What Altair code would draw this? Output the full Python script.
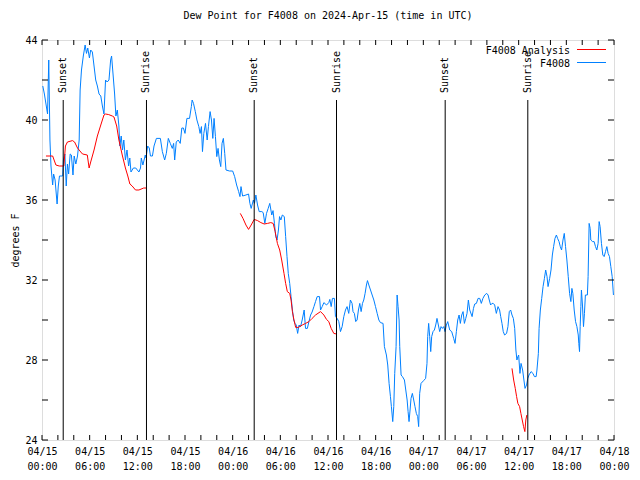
import altair as alt
import pandas as pd

MONO = "DejaVu Sans Mono"
TITLE = "Dew Point for F4008 on 2024-Apr-15 (time in UTC)"
series_names = ["F4008 Analysis", "F4008"]
series_colors = ["#ff0000", "#0080ff"]

# hours since 2024-04-15 00:00 UTC
blue_h = [0.1, 0.3, 0.5, 0.7, 0.85, 1.0, 1.13, 1.34, 1.46, 1.65, 1.9, 2.05, 2.2, 2.6, 2.7, 2.88, 3.05, 3.2, 3.35,
          3.55, 3.7, 3.9, 4.05, 4.26, 4.47, 4.68, 4.8, 4.97, 5.2, 5.43, 5.6, 5.76, 5.97, 6.13, 6.34, 6.55, 6.76,
          6.97, 7.18, 7.4, 7.6, 7.8, 8.0, 8.2, 8.43, 8.64, 8.76, 8.9, 9.14, 9.3, 9.48, 9.68, 9.8, 9.97, 10.14,
          10.3, 10.5, 10.7, 10.9, 11.05, 11.2, 11.5, 11.8, 12.2, 12.4, 12.5, 12.7, 13.0, 13.1, 13.3, 13.5, 13.65,
          13.9, 14.1, 14.4, 14.9, 15.15, 15.44, 15.65, 15.9, 16.15, 16.4, 16.57, 16.7, 16.9, 17.15, 17.4, 17.6,
          17.8, 18.0, 18.24, 18.57, 18.8, 18.9, 19.07, 19.3, 19.5, 19.74, 19.9, 20.07, 20.2, 20.37, 20.58, 20.79,
          20.95, 21.16, 21.33, 21.5, 21.66, 21.83, 22.0, 22.16, 22.33, 22.5, 22.66, 22.83, 23.0, 23.16, 23.6,
          24.0, 24.25, 24.5, 24.75, 24.92, 25.05, 25.25, 25.67, 26.0, 26.17, 26.33, 26.6, 26.75, 26.92, 27.13,
          27.34, 27.67, 27.84, 28.05, 28.26, 28.47, 28.67, 28.92, 29.08, 29.26, 29.42, 29.59, 29.76, 29.9, 30.07,
          30.25, 30.5, 30.67, 30.84, 31.0, 31.18, 31.35, 31.52, 31.68, 31.85, 32.0, 32.18, 32.35, 32.55, 32.75,
          33.0, 33.17, 33.4, 33.6, 33.81, 34.0, 34.23, 34.43, 34.64, 34.93, 35.06, 35.27, 35.48, 35.81, 36.1,
          36.23, 36.4, 36.56, 36.81, 36.94, 37.15, 37.36, 37.57, 37.78, 37.99, 38.2, 38.4, 38.61, 38.82, 39.03,
          39.15, 39.32, 39.49, 39.66, 39.83, 40.0, 40.17, 40.34, 40.5, 40.67, 40.84, 40.97, 41.14, 41.35, 41.56,
          41.77, 41.98, 42.19, 42.4, 42.6, 42.93, 43.1, 43.35, 43.52, 43.69, 43.86, 43.98, 44.15, 44.28, 44.4,
          44.57, 44.7, 44.82, 44.95, 45.03, 45.2, 45.37, 45.62, 45.79, 45.96, 46.08, 46.2, 46.33, 46.45, 46.62,
          46.79, 46.95, 47.12, 47.29, 47.41, 47.54, 47.71, 48.04, 48.29, 48.46, 48.55, 48.67, 48.8, 48.93, 49.05,
          49.22, 49.39, 49.56, 49.72, 49.89, 50.06, 50.23, 50.4, 50.57, 50.73, 50.9, 51.07, 51.32, 51.57, 51.82,
          51.99, 52.16, 52.33, 52.5, 52.66, 52.83, 53.0, 53.17, 53.34, 53.5, 53.67, 53.84, 54.14, 54.31, 54.47,
          54.68, 54.89, 55.1, 55.3, 55.5, 55.73, 55.98, 56.15, 56.3, 56.47, 56.64, 56.8, 56.98, 57.19, 57.4,
          57.6, 57.74, 57.9, 58.06, 58.23, 58.48, 58.65, 58.82, 58.99, 59.16, 59.33, 59.5, 59.65, 59.78, 59.9,
          60.0, 60.16, 60.3, 60.5, 60.66, 60.8, 60.99, 61.15, 61.3, 61.56, 61.8, 61.98, 62.2, 62.3, 62.48, 62.57,
          62.73, 62.9, 63.07, 63.24, 63.4, 63.57, 63.7, 63.9, 64.07, 64.24, 64.4, 64.57, 64.75, 64.9, 65.08,
          65.24, 65.4, 65.58, 65.74, 65.9, 66.07, 66.24, 66.41, 66.57, 66.7, 66.82, 66.99, 67.16, 67.33, 67.5,
          67.57, 67.66, 67.74, 67.83, 67.9, 68.03, 68.16, 68.28, 68.4, 68.65, 68.74, 68.87, 69.0, 69.08, 69.3,
          69.5, 69.67, 69.84, 70.0, 70.13, 70.25, 70.42, 70.59, 70.76, 70.93, 71.1, 71.26, 71.43, 71.6, 71.77,
          71.93]
blue_v = [41.7, 41.3, 40.8, 40.3, 43.0, 39.0, 37.7, 36.75, 37.3, 37.0, 35.8, 36.7, 37.2, 37.2, 38.0, 38.3, 36.7,
          37.8, 37.3, 38.3, 38.25, 37.25, 38.2, 37.8, 38.2, 39.0, 41.5, 42.5, 43.2, 43.75, 43.33, 43.6, 43.1,
          43.5, 43.4, 42.7, 42.0, 41.7, 41.3, 41.2, 40.7, 40.3, 42.0, 41.9, 42.0, 43.0, 43.2, 42.5, 41.3, 40.2,
          40.5, 39.7, 38.7, 39.2, 38.5, 39.0, 38.0, 38.5, 37.7, 38.1, 37.4, 37.6, 37.6, 37.4, 37.6, 38.1, 37.75,
          38.25, 38.1, 38.7, 38.6, 38.2, 38.2, 38.7, 39.08, 39.08, 38.42, 38.0, 38.33, 39.08, 38.83, 38.58,
          38.83, 38.0, 38.9, 39.0, 38.83, 39.6, 39.6, 39.33, 40.08, 40.08, 40.67, 41.0, 40.83, 40.42, 40.0,
          39.67, 39.33, 39.67, 38.42, 39.33, 39.83, 39.0, 39.67, 40.42, 40.0, 39.08, 40.08, 39.17, 38.17, 38.58,
          38.0, 37.67, 38.83, 39.08, 38.33, 37.5, 37.45, 37.45, 37.17, 36.75, 36.42, 36.17, 36.67, 36.2, 36.25,
          36.3, 35.83, 35.58, 36.0, 35.83, 36.25, 35.75, 35.42, 35.42, 35.37, 34.83, 35.33, 35.58, 35.83, 35.25,
          35.47, 34.83, 34.17, 34.0, 34.5, 35.17, 35.0, 35.25, 35.17, 34.17, 33.17, 32.33, 31.83, 31.17, 30.5,
          30.0, 29.83, 29.75, 29.33, 29.75, 29.67, 30.0, 30.5, 29.58, 29.58, 29.92, 30.25, 30.4, 30.67, 30.92,
          31.17, 31.17, 30.5, 30.67, 30.87, 30.75, 30.87, 31.03, 30.67, 31.08, 31.08, 30.17, 30.08, 29.92, 29.42,
          29.67, 30.17, 30.5, 30.67, 30.33, 31.0, 30.83, 30.42, 30.33, 29.92, 30.0, 30.5, 30.83, 30.42, 30.83,
          31.0, 31.33, 31.75, 31.97, 31.75, 31.5, 31.25, 31.0, 30.67, 30.33, 30.0, 29.87, 29.83, 28.67, 28.25,
          27.75, 26.83, 26.17, 25.67, 24.92, 25.67, 27.33, 28.67, 31.25, 30.67, 30.0, 28.67, 27.25, 27.17, 27.0,
          26.5, 26.0, 25.42, 24.92, 25.5, 26.08, 26.33, 26.0, 25.67, 25.33, 25.17, 24.67, 26.33, 26.83, 26.97,
          27.08, 27.83, 29.17, 29.83, 29.17, 28.42, 29.17, 29.42, 29.5, 29.75, 30.08, 29.75, 29.42, 29.67, 29.58,
          29.67, 29.42, 29.75, 29.92, 29.5, 29.42, 29.08, 28.83, 29.42, 30.0, 30.25, 29.83, 30.25, 30.42, 29.83,
          30.08, 30.33, 31.0, 30.5, 30.17, 30.58, 30.8, 30.83, 31.08, 31.08, 30.83, 31.08, 31.25, 31.33, 31.25,
          31.0, 30.75, 30.83, 30.83, 30.75, 30.33, 30.67, 30.5, 30.17, 29.83, 29.42, 29.25, 29.33, 29.67, 30.42,
          30.5, 30.25, 30.08, 29.58, 28.5, 28.0, 28.17, 28.25, 27.33, 27.83, 27.5, 27.0, 26.58, 26.75, 27.08,
          27.25, 27.42, 27.33, 27.17, 27.17, 27.5, 28.33, 29.58, 30.5, 31.08, 31.67, 32.08, 32.5, 32.17, 31.67,
          32.08, 32.5, 33.25, 33.67, 34.08, 34.25, 34.08, 33.92, 33.67, 33.5, 34.0, 34.33, 33.67, 33.0, 32.17,
          31.33, 30.92, 31.58, 31.33, 30.5, 29.92, 29.67, 29.25, 28.83, 28.42, 29.67, 30.67, 31.5, 30.75, 29.67,
          30.33, 31.25, 31.25, 32.17, 34.83, 34.58, 34.0, 33.92, 33.92, 33.67, 33.5, 33.83, 34.92, 34.67, 33.83,
          33.25, 33.17, 33.42, 33.67, 33.33, 33.17, 32.67, 32.17, 31.25]

red1_h = [0.5, 1.34, 1.75, 2.17, 2.75, 2.95, 3.2, 3.84, 4.1, 4.47, 4.88, 5.1, 5.7, 5.93, 6.13, 6.55, 6.97, 7.4,
          7.8, 8.0, 8.4, 8.85, 9.06, 9.4, 9.68, 10.1, 10.5, 10.8, 11.06, 11.35, 11.77, 12.2, 12.8, 13.15]
red1_v = [38.2, 38.2, 37.75, 37.7, 37.7, 38.7, 38.9, 38.97, 38.9, 38.6, 38.4, 38.3, 38.25, 37.6, 37.9, 38.5, 39.2,
          39.75, 40.25, 40.3, 40.27, 40.2, 40.15, 39.7, 39.0, 38.25, 37.6, 37.2, 36.8, 36.7, 36.5, 36.5, 36.6, 36.6]
red2_h = [24.96, 25.3, 25.67, 26.0, 26.33, 26.71, 27.13, 27.55, 27.97, 28.39, 28.8, 29.1, 29.35, 29.63, 29.92,
          30.17, 30.46, 30.67, 30.88, 31.18, 31.35, 31.52, 31.72, 31.93, 32.26, 32.76, 33.18, 33.6, 34.0, 34.43,
          35.06, 35.48, 35.81, 36.1, 36.4, 36.73, 37.07]
red2_v = [35.33, 35.08, 34.75, 34.53, 34.75, 35.03, 34.97, 34.87, 34.8, 34.83, 34.87, 34.83, 34.42, 33.83, 33.5,
          33.0, 32.33, 31.83, 31.42, 31.33, 31.0, 30.42, 30.0, 29.63, 29.63, 29.75, 29.83, 29.92, 30.08, 30.25,
          30.42, 30.25, 30.03, 29.92, 29.58, 29.33, 29.3]
red3_h = [59.16, 59.37, 59.57, 59.74, 59.9, 60.12, 60.28, 60.45, 60.62, 60.78, 60.9, 61.03]
red3_v = [27.58, 27.0, 26.58, 26.17, 25.83, 25.67, 25.33, 25.0, 24.67, 24.42, 25.0, 25.25]

sun_h = [2.67, 13.15, 26.71, 37.07, 50.75, 61.15]
sun_label = ["Sunset", "Sunrise", "Sunset", "Sunrise", "Sunset", "Sunrise"]

x_tick_hours = list(range(0, 73, 6))
x_minor_hours = list(range(0, 73, 2))
x_dates = ["04/15"] * 4 + ["04/16"] * 4 + ["04/17"] * 4 + ["04/18"]
x_times = ["00:00", "06:00", "12:00", "18:00"] * 3 + ["00:00"]
y_ticks = list(range(24, 45, 2))

W, H = 572, 400

blue_df = pd.DataFrame({"h": blue_h, "v": blue_v})
red_df = pd.concat([
    pd.DataFrame({"h": red1_h, "v": red1_v, "seg": 1}),
    pd.DataFrame({"h": red2_h, "v": red2_v, "seg": 2}),
    pd.DataFrame({"h": red3_h, "v": red3_v, "seg": 3}),
])
sun_df = pd.DataFrame({"h": sun_h, "label": sun_label})
xt_df = pd.DataFrame({"h": x_minor_hours})
yt_df = pd.DataFrame({"v": y_ticks})

xs = alt.Scale(domain=[0, 72], nice=False, zero=False)
ys = alt.Scale(domain=[24, 44], nice=False, zero=False)

arr = "[" + ",".join(f"['{d}','{t}']" for d, t in zip(x_dates, x_times)) + "]"
x_axis = alt.Axis(values=x_tick_hours, labelExpr=f"{arr}[round(datum.value/6)]", ticks=False, domain=False,
                  grid=False, title=None, labelFont=MONO, labelFontSize=10, labelPadding=6, labelLineHeight=15,
                  labelFlush=False, labelAngle=0, labelColor="black", labelOverlap=False)
y_axis = alt.Axis(values=y_ticks, ticks=False, domain=False, grid=False, title="degrees F",
                  labelFont=MONO, labelFontSize=10, labelPadding=5, labelColor="black", labelOverlap=False,
                  labelFlush=False,
                  titleFont=MONO, titleFontSize=10, titleFontWeight="normal", titleColor="black",
                  titlePadding=4)

blue_line = alt.Chart(blue_df).mark_line(color=series_colors[1], strokeWidth=1).encode(
    x=alt.X("h:Q", scale=xs, axis=x_axis),
    y=alt.Y("v:Q", scale=ys, axis=y_axis),
)
red_line = alt.Chart(red_df).mark_line(color=series_colors[0], strokeWidth=1).encode(
    x=alt.X("h:Q", scale=xs),
    y=alt.Y("v:Q", scale=ys),
    detail="seg:N",
)
sun_rules = alt.Chart(sun_df).mark_rule(color="black", strokeWidth=1).encode(
    x=alt.X("h:Q", scale=xs),
    y=alt.value(60),
    y2=alt.value(H),
)
sun_text = alt.Chart(sun_df).mark_text(angle=270, align="left", baseline="middle", font=MONO, fontSize=10,
                                       color="black").encode(
    x=alt.X("h:Q", scale=xs),
    y=alt.value(53),
    text="label:N",
)
xt_bottom = alt.Chart(xt_df).mark_rule(color="black").encode(
    x=alt.X("h:Q", scale=xs), y=alt.value(H), y2=alt.value(H - 5))
xt_top = alt.Chart(xt_df).mark_rule(color="black").encode(
    x=alt.X("h:Q", scale=xs), y=alt.value(0), y2=alt.value(5))
yt_left = alt.Chart(yt_df).mark_rule(color="black").encode(
    y=alt.Y("v:Q", scale=ys), x=alt.value(0), x2=alt.value(6))
yt_right = alt.Chart(yt_df).mark_rule(color="black").encode(
    y=alt.Y("v:Q", scale=ys), x=alt.value(W), x2=alt.value(W - 6))

leg_layers = []
for i, (name, col) in enumerate(zip(series_names, series_colors)):
    ldf = pd.DataFrame({"name": [name]})
    leg_layers.append(alt.Chart(ldf).mark_text(align="right", baseline="middle", font=MONO, fontSize=10,
                                               color="black").encode(
        x=alt.value(W - 44), y=alt.value(10.5 + 13 * i), text="name:N"))
    leg_layers.append(alt.Chart(ldf).mark_rule(color=col, strokeWidth=1).encode(
        x=alt.value(W - 37), x2=alt.value(W - 8), y=alt.value(9.5 + 13 * i)))

chart = alt.layer(blue_line, red_line, sun_rules, sun_text, xt_bottom, xt_top, yt_left, yt_right,
                  *leg_layers).properties(
    width=W, height=H,
    title=alt.TitleParams(TITLE, font=MONO, fontSize=10, fontWeight="normal", color="black", offset=14,
                          anchor="middle"),
    autosize=alt.AutoSizeParams(type="none"),
    padding={"left": 34, "top": 32, "right": 18, "bottom": 32},
).configure_view(stroke="black", strokeWidth=1).configure(background="white")

chart.save("out.html", embed_options={"renderer": "svg", "actions": False})
